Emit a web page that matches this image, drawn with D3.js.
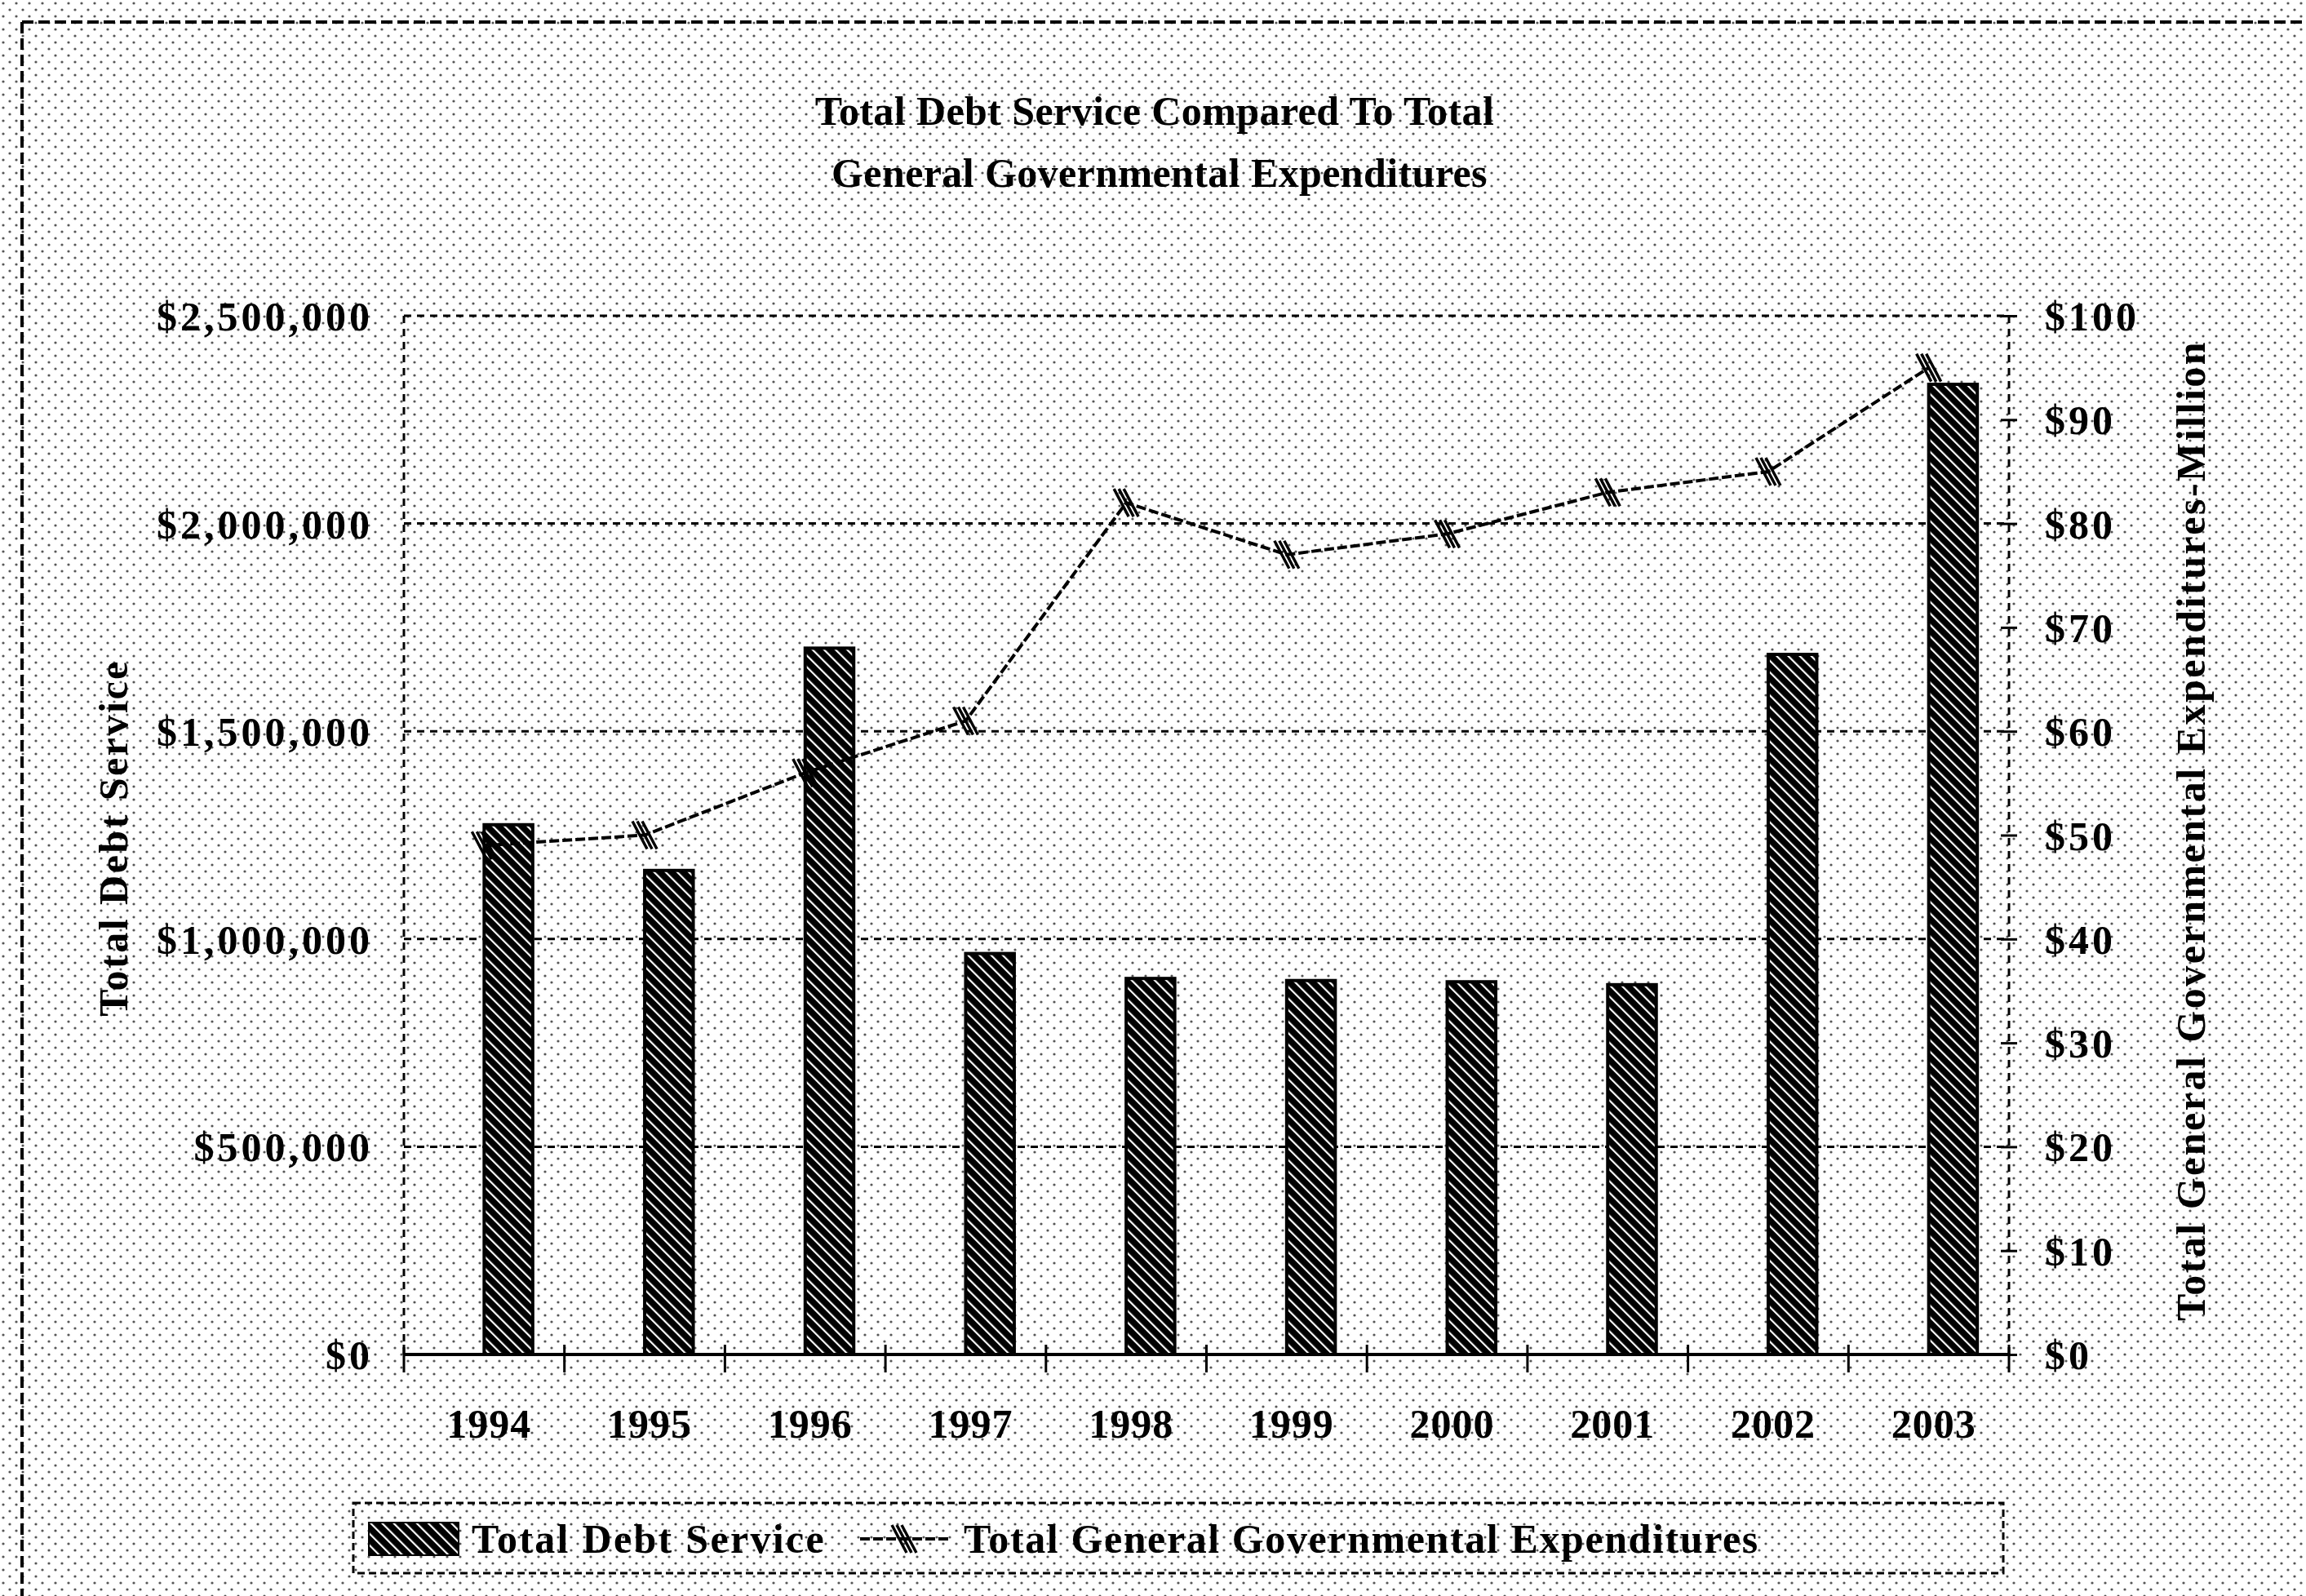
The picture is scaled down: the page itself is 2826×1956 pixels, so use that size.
<!DOCTYPE html>
<html>
<head>
<meta charset="utf-8">
<script src="https://cdn.jsdelivr.net/npm/d3@7"></script>
<style>
  html, body { margin: 0; padding: 0; background: #ffffff; }
  svg { display: block; }
  text { font-family: "Liberation Serif", "DejaVu Serif", serif; font-weight: bold; fill: #000; }
</style>
</head>
<body>
<script>
// ---------- data ----------
const years = ["1994", "1995", "1996", "1997", "1998", "1999", "2000", "2001", "2002", "2003"];
const debtService = [1275000, 1165000, 1700000, 965000, 905000, 900000, 897000, 890000, 1685000, 2335000];
const govExpenditures = [49, 50, 56, 61, 82, 77, 79, 83, 85, 95];
const leftTicks = [0, 500000, 1000000, 1500000, 2000000, 2500000];
const rightTicks = [0, 10, 20, 30, 40, 50, 60, 70, 80, 90, 100];
const titleLines = ["Total Debt Service Compared To Total", "General Governmental Expenditures"];
const leftAxisTitle = "Total Debt Service";
const rightAxisTitle = "Total General Governmental Expenditures-Million";
const seriesNames = ["Total Debt Service", "Total General Governmental Expenditures"];

// ---------- layout ----------
const W = 2826, H = 1956;
const plot = { left: 495, right: 2462, top: 387, bottom: 1660 };
const FS = 50;

const svg = d3.select("body").append("svg").attr("width", W).attr("height", H);
const defs = svg.append("defs");

// dotted background (scanned halftone look)
const bg = defs.append("pattern").attr("id", "dots").attr("patternUnits", "userSpaceOnUse")
  .attr("width", 16).attr("height", 16);
bg.append("rect").attr("width", 16).attr("height", 16).attr("fill", "#fff");
bg.append("circle").attr("cx", 4).attr("cy", 4).attr("r", 1.6).attr("fill", "#555");
bg.append("circle").attr("cx", 12).attr("cy", 12).attr("r", 1.6).attr("fill", "#555");

// hatch for bars
const hatch = defs.append("pattern").attr("id", "hatch").attr("patternUnits", "userSpaceOnUse")
  .attr("width", 10).attr("height", 10).attr("patternTransform", "rotate(-45)");
hatch.append("rect").attr("width", 10).attr("height", 10).attr("fill", "#000");
hatch.append("rect").attr("x", 0).attr("y", 0).attr("width", 2.2).attr("height", 10).attr("fill", "#fff");

svg.append("rect").attr("width", W).attr("height", H).attr("fill", "url(#dots)");

// outer frame (top and left edges visible)
svg.append("line").attr("x1", 27).attr("y1", 27).attr("x2", W).attr("y2", 27)
  .attr("stroke", "#000").attr("stroke-width", 4).attr("stroke-dasharray", "14,6");
svg.append("line").attr("x1", 27).attr("y1", 27).attr("x2", 27).attr("y2", H)
  .attr("stroke", "#000").attr("stroke-width", 4).attr("stroke-dasharray", "14,6");

// ---------- scales ----------
const x = d3.scaleBand().domain(years).range([plot.left, plot.right]).paddingInner(0).paddingOuter(0);
const xSlot = d3.scaleBand().domain(["spacer", "debt"]).range([0, x.bandwidth()]).paddingInner(0).paddingOuter(0.653);
const yL = d3.scaleLinear().domain([0, 2500000]).range([plot.bottom, plot.top]);
const yR = d3.scaleLinear().domain([0, 100]).range([plot.bottom, plot.top]);

// ---------- title ----------
svg.append("text").attr("x", 1415).attr("y", 153).attr("text-anchor", "middle")
  .attr("font-size", FS).attr("letter-spacing", 0.4).text(titleLines[0]);
svg.append("text").attr("x", 1421).attr("y", 229).attr("text-anchor", "middle")
  .attr("font-size", FS).attr("letter-spacing", 0.4).text(titleLines[1]);

// ---------- gridlines ----------
const g = svg.append("g");
g.selectAll("line.grid").data(leftTicks.filter(d => d > 0)).join("line")
  .attr("class", "grid")
  .attr("x1", plot.left).attr("x2", plot.right)
  .attr("y1", d => yL(d)).attr("y2", d => yL(d))
  .attr("stroke", "#000").attr("stroke-width", 3).attr("stroke-dasharray", "9,7");

// plot frame left & right (dashed)
g.append("line").attr("x1", plot.left).attr("x2", plot.left).attr("y1", plot.top).attr("y2", plot.bottom)
  .attr("stroke", "#000").attr("stroke-width", 3).attr("stroke-dasharray", "9,7");
g.append("line").attr("x1", plot.right).attr("x2", plot.right).attr("y1", plot.top).attr("y2", plot.bottom)
  .attr("stroke", "#000").attr("stroke-width", 3).attr("stroke-dasharray", "9,7");

// ---------- bars ----------
svg.append("g").selectAll("rect").data(years).join("rect")
  .attr("x", (d) => x(d) + xSlot("debt"))
  .attr("width", xSlot.bandwidth())
  .attr("y", (d, i) => yL(debtService[i]))
  .attr("height", (d, i) => yL(0) - yL(debtService[i]))
  .attr("fill", "url(#hatch)").attr("stroke", "#000").attr("stroke-width", 4);

// ---------- left axis ----------
const leftAxis = d3.axisLeft(yL).tickValues(leftTicks).tickFormat(d3.format("$,")).tickSize(0).tickPadding(38);
const gl = svg.append("g").attr("transform", `translate(${plot.left},0)`).call(leftAxis);
gl.select(".domain").remove();
gl.selectAll("text").attr("font-size", FS).attr("font-family", null).attr("letter-spacing", 4).attr("dy", "0.35em");

// ---------- right axis ----------
const rightAxis = d3.axisRight(yR).tickValues(rightTicks).tickFormat(d => "$" + d).tickSize(10).tickPadding(34);
const gr = svg.append("g").attr("transform", `translate(${plot.right},0)`).call(rightAxis);
gr.select(".domain").remove();
gr.selectAll(".tick line").attr("x1", -10).attr("stroke", "#000").attr("stroke-width", 3);
gr.selectAll("text").attr("font-size", FS).attr("font-family", null).attr("letter-spacing", 4).attr("dy", "0.35em");

// ---------- x axis ----------
svg.append("line").attr("x1", plot.left).attr("x2", plot.right).attr("y1", plot.bottom).attr("y2", plot.bottom)
  .attr("stroke", "#000").attr("stroke-width", 4);
const boundaries = years.map(d => x(d)).concat([plot.right]);
svg.append("g").selectAll("line").data(boundaries).join("line")
  .attr("x1", d => d).attr("x2", d => d)
  .attr("y1", plot.bottom - 12).attr("y2", plot.bottom + 22)
  .attr("stroke", "#000").attr("stroke-width", 3);
const bottomAxis = d3.axisBottom(x).tickSize(0).tickPadding(66);
const gb = svg.append("g").attr("transform", `translate(0,${plot.bottom})`).call(bottomAxis);
gb.select(".domain").remove();
gb.selectAll("text").attr("font-size", FS).attr("font-family", null).attr("letter-spacing", 1).attr("dx", 6);

// ---------- line series ----------
const lineGen = d3.line().x((d, i) => x(years[i]) + x.bandwidth() / 2).y(d => yR(d));
svg.append("path").datum(govExpenditures).attr("d", lineGen)
  .attr("fill", "none").attr("stroke", "#000").attr("stroke-width", 4).attr("stroke-dasharray", "12,4");

function marker(sel) {
  [-6, 0, 6].forEach(off => {
    sel.append("line").attr("x1", off - 9).attr("y1", -17).attr("x2", off + 9).attr("y2", 17)
      .attr("stroke", "#000").attr("stroke-width", 3.5);
  });
}
svg.append("g").selectAll("g").data(govExpenditures).join("g")
  .attr("transform", (d, i) => `translate(${x(years[i]) + x.bandwidth() / 2},${yR(d)})`)
  .each(function () { marker(d3.select(this)); });

// ---------- axis titles ----------
svg.append("text").attr("transform", `translate(156,1027) rotate(-90)`).attr("text-anchor", "middle")
  .attr("font-size", FS).attr("letter-spacing", 2.5).text(leftAxisTitle);
svg.append("text").attr("transform", `translate(2702,1018) rotate(-90)`).attr("text-anchor", "middle")
  .attr("font-size", FS).attr("letter-spacing", 2.5).text(rightAxisTitle);

// ---------- legend ----------
const lg = svg.append("g");
lg.append("rect").attr("x", 433).attr("y", 1842).attr("width", 2022).attr("height", 86)
  .attr("fill", "none").attr("stroke", "#000").attr("stroke-width", 3).attr("stroke-dasharray", "9,5");
lg.append("rect").attr("x", 452).attr("y", 1866).attr("width", 110).attr("height", 40)
  .attr("fill", "url(#hatch)").attr("stroke", "#000").attr("stroke-width", 2);
lg.append("text").attr("x", 578).attr("y", 1903).attr("font-size", FS).attr("letter-spacing", 2.3).text(seriesNames[0]);
lg.append("line").attr("x1", 1054).attr("x2", 1163).attr("y1", 1886).attr("y2", 1886)
  .attr("stroke", "#000").attr("stroke-width", 4).attr("stroke-dasharray", "12,4");
marker(lg.append("g").attr("transform", "translate(1108,1886)"));
lg.append("text").attr("x", 1181).attr("y", 1903).attr("font-size", FS).attr("letter-spacing", 1.6).text(seriesNames[1]);
</script>
</body>
</html>
